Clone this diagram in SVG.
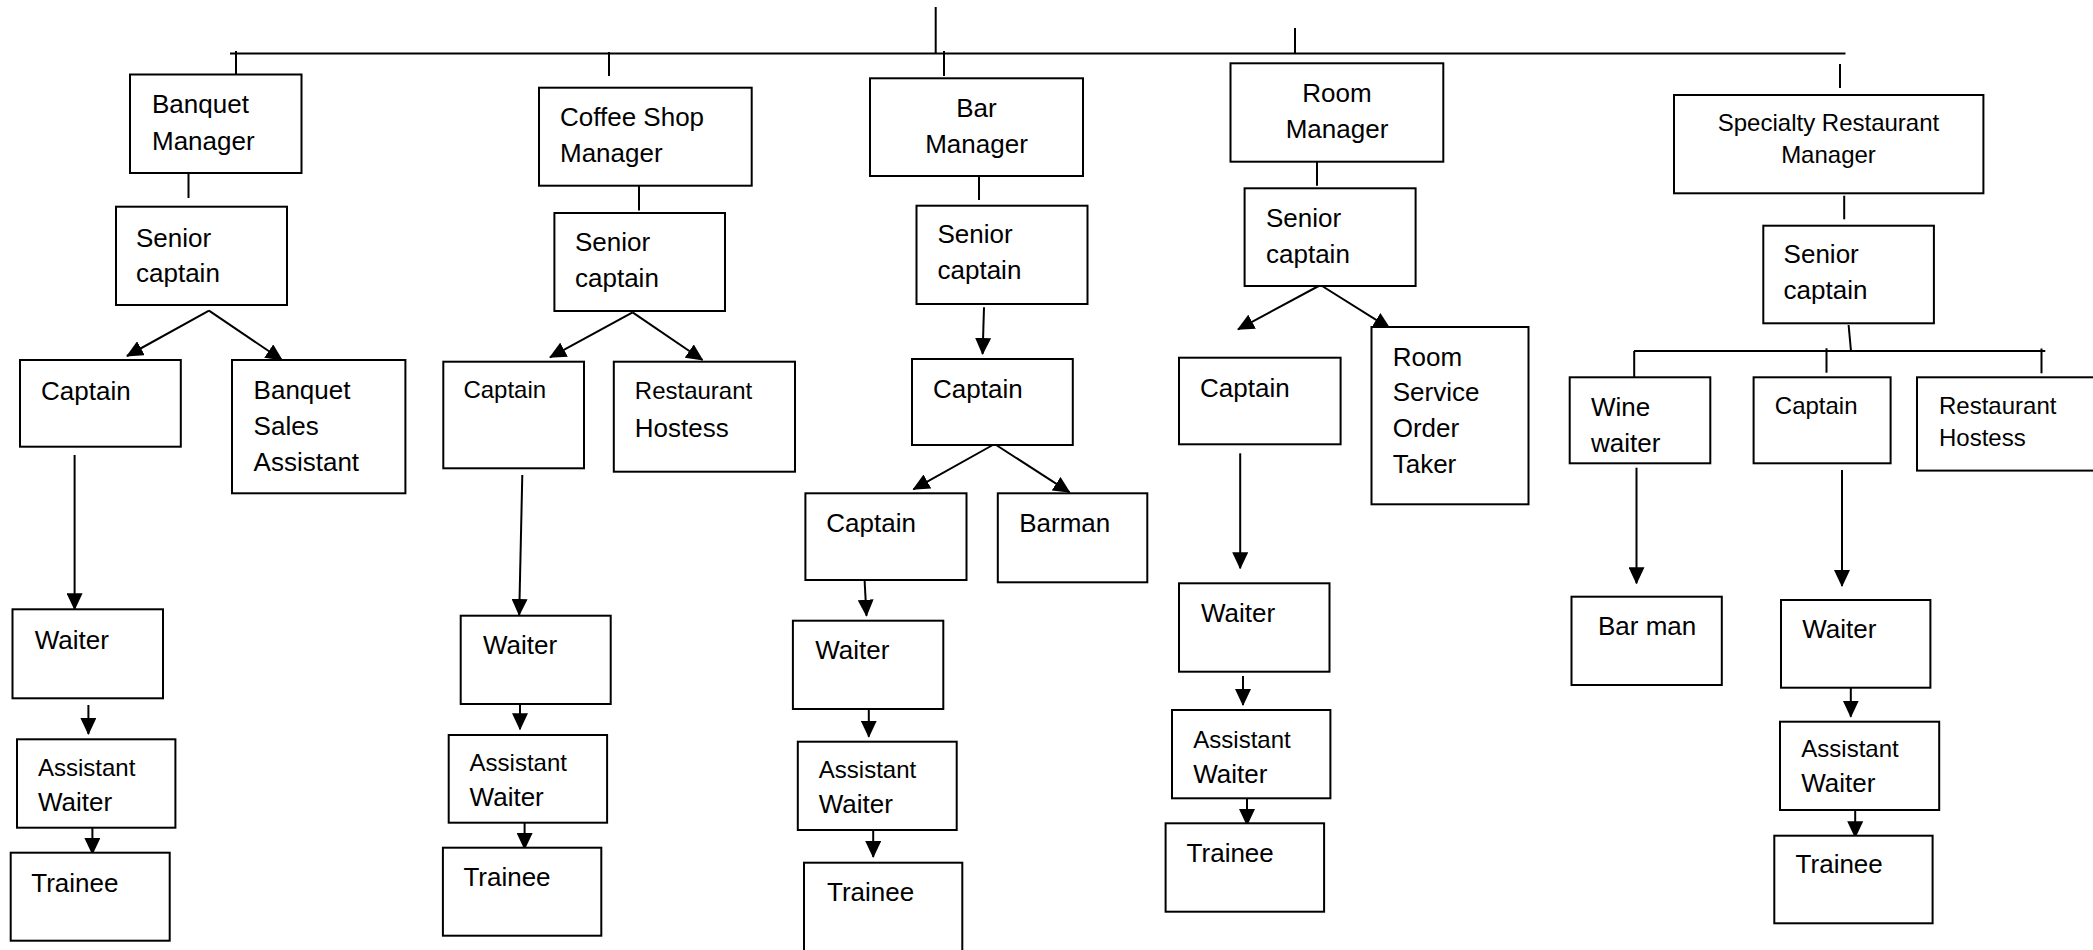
<svg xmlns="http://www.w3.org/2000/svg" width="2093" height="950" viewBox="0 0 2093 950">
<defs>
<style>
.b{fill:#fff;stroke:#000;stroke-width:2}
.c{stroke:#000;stroke-width:2;fill:none}
.a{stroke:#000;stroke-width:2;fill:none;marker-end:url(#ah)}
text{font-family:"Liberation Sans",Arial,sans-serif;font-size:26px;fill:#000}
.s{font-size:24px}
.m{text-anchor:middle}
</style>
<marker id="ah" markerUnits="userSpaceOnUse" markerWidth="17" markerHeight="16" refX="16" refY="8" orient="auto">
<path d="M0,0 L17,8 L0,16 z" fill="#000"/>
</marker>
</defs>
<rect width="2093" height="950" fill="#fff"/>
<g id="connectors">
<line class="c" x1="230" y1="53.5" x2="1845.5" y2="53.5"/>
<line class="c" x1="935.7" y1="7" x2="935.7" y2="53"/>
<line class="c" x1="1295" y1="28" x2="1295" y2="53"/>
<line class="c" x1="236" y1="51" x2="236" y2="74.5"/>
<line class="c" x1="609" y1="52" x2="609" y2="76"/>
<line class="c" x1="944" y1="51" x2="944" y2="76"/>
<line class="c" x1="1840" y1="64" x2="1840" y2="88"/>
<!-- Banquet -->
<line class="c" x1="188.5" y1="173" x2="188.5" y2="198"/>
<line class="a" x1="209" y1="310.7" x2="127" y2="356"/>
<line class="a" x1="209" y1="310.7" x2="282" y2="360"/>
<line class="a" x1="74.6" y1="455" x2="74.6" y2="609.3"/>
<line class="a" x1="88.4" y1="705" x2="88.4" y2="734"/>
<line class="a" x1="92.4" y1="825" x2="92.4" y2="854"/>
<!-- Coffee -->
<line class="c" x1="639" y1="185.7" x2="639" y2="210.5"/>
<line class="a" x1="632.6" y1="312.3" x2="550" y2="357.3"/>
<line class="a" x1="632.6" y1="312.3" x2="702.5" y2="360"/>
<line class="a" x1="522.3" y1="475" x2="519.2" y2="615"/>
<line class="a" x1="520" y1="700" x2="520" y2="729.3"/>
<line class="a" x1="524.6" y1="820.7" x2="524.6" y2="849"/>
<!-- Bar -->
<line class="c" x1="979" y1="176" x2="979" y2="200"/>
<line class="a" x1="984" y1="307.3" x2="982.6" y2="354"/>
<line class="a" x1="994.6" y1="444" x2="913.4" y2="489.3"/>
<line class="a" x1="994.6" y1="444" x2="1069.6" y2="492.3"/>
<line class="a" x1="864.3" y1="575" x2="866.5" y2="615.7"/>
<line class="a" x1="868.8" y1="707.3" x2="868.8" y2="736.7"/>
<line class="a" x1="873.2" y1="828.3" x2="873.2" y2="857"/>
<!-- Room -->
<line class="c" x1="1317" y1="161.7" x2="1317" y2="185.7"/>
<line class="a" x1="1320.5" y1="285" x2="1238" y2="329.3"/>
<line class="a" x1="1320.5" y1="285" x2="1389.7" y2="328.3"/>
<line class="a" x1="1240.2" y1="453.3" x2="1240.2" y2="568.3"/>
<line class="a" x1="1243" y1="676" x2="1243" y2="705"/>
<line class="a" x1="1247" y1="796" x2="1247" y2="825"/>
<!-- Specialty -->
<line class="c" x1="1844.2" y1="195.7" x2="1844.2" y2="219.3"/>
<line class="c" x1="1848.6" y1="325" x2="1851" y2="351"/>
<line class="c" x1="1634" y1="351" x2="2045.3" y2="351"/>
<line class="c" x1="1634.2" y1="351" x2="1634.2" y2="377.3"/>
<line class="c" x1="1826.5" y1="348.3" x2="1826.5" y2="372.7"/>
<line class="c" x1="2041.5" y1="348.5" x2="2041.5" y2="373.3"/>
<line class="a" x1="1636.5" y1="467.7" x2="1636.5" y2="583.3"/>
<line class="a" x1="1842" y1="470" x2="1842" y2="586"/>
<line class="a" x1="1850.8" y1="688" x2="1850.8" y2="716.7"/>
<line class="a" x1="1855.2" y1="808.3" x2="1855.2" y2="837.3"/>
</g>
<!-- Banquet column -->
<g id="banquet-manager"><rect class="b" x="130" y="74.5" width="171.5" height="98.5"/><text x="152" y="113">Banquet</text><text x="152" y="150">Manager</text></g>
<g id="banquet-senior-captain"><rect class="b" x="116" y="206.7" width="171" height="98.3"/><text x="136" y="246.7">Senior</text><text x="136" y="281.7">captain</text></g>
<g id="banquet-captain"><rect class="b" x="20" y="360" width="160.8" height="86.7"/><text x="41" y="400">Captain</text></g>
<g id="banquet-sales-assistant"><rect class="b" x="232" y="360" width="173.4" height="133.3"/><text x="253.6" y="399.3">Banquet</text><text x="253.6" y="435">Sales</text><text x="253.6" y="470.7">Assistant</text></g>
<g id="banquet-waiter"><rect class="b" x="12.5" y="609.3" width="150.5" height="89"/><text x="34.8" y="649.3">Waiter</text></g>
<g id="banquet-assistant-waiter"><rect class="b" x="17" y="739.3" width="158.4" height="88.4"/><text class="s" x="38" y="776">Assistant</text><text x="38" y="810.7">Waiter</text></g>
<g id="banquet-trainee"><rect class="b" x="10.7" y="852.7" width="159" height="88"/><text x="31.3" y="891.7">Trainee</text></g>
<!-- Coffee column -->
<g id="coffee-shop-manager"><rect class="b" x="539" y="87.7" width="212.7" height="98"/><text x="560" y="125.5">Coffee Shop</text><text x="560" y="162">Manager</text></g>
<g id="coffee-senior-captain"><rect class="b" x="554.4" y="213" width="170.6" height="98"/><text x="575" y="251">Senior</text><text x="575" y="287">captain</text></g>
<g id="coffee-captain"><rect class="b" x="443.3" y="361.7" width="140.7" height="106.6"/><text class="s" x="463.4" y="398.3">Captain</text></g>
<g id="coffee-restaurant-hostess"><rect class="b" x="613.8" y="361.7" width="181.2" height="110"/><text class="s" x="634.8" y="399.3">Restaurant</text><text x="634.8" y="436.7">Hostess</text></g>
<g id="coffee-waiter"><rect class="b" x="460.7" y="615.7" width="150" height="88.3"/><text x="483" y="654">Waiter</text></g>
<g id="coffee-assistant-waiter"><rect class="b" x="448.7" y="735" width="158.4" height="87.7"/><text class="s" x="469.6" y="770.7">Assistant</text><text x="469.6" y="806">Waiter</text></g>
<g id="coffee-trainee"><rect class="b" x="442.9" y="847.7" width="158.4" height="88"/><text x="463.4" y="886">Trainee</text></g>
<!-- Bar column -->
<g id="bar-manager"><rect class="b" x="870" y="78.3" width="213" height="97.7"/><text class="m" x="976.5" y="116.7">Bar</text><text class="m" x="976.5" y="153.3">Manager</text></g>
<g id="bar-senior-captain"><rect class="b" x="916.5" y="205.7" width="171" height="98.3"/><text x="937.5" y="243.3">Senior</text><text x="937.5" y="279.3">captain</text></g>
<g id="bar-captain"><rect class="b" x="912" y="359" width="160.8" height="86"/><text x="933" y="397.7">Captain</text></g>
<g id="bar-captain-2"><rect class="b" x="805.4" y="493.3" width="161.1" height="86.7"/><text x="826.3" y="531.7">Captain</text></g>
<g id="bar-barman"><rect class="b" x="997.8" y="493.3" width="149.5" height="89"/><text x="1019.2" y="531.7">Barman</text></g>
<g id="bar-waiter"><rect class="b" x="792.9" y="620.7" width="150.4" height="88.3"/><text x="815.2" y="659.3">Waiter</text></g>
<g id="bar-assistant-waiter"><rect class="b" x="797.8" y="741.7" width="158.9" height="88.3"/><text class="s" x="818.8" y="778.3">Assistant</text><text x="818.8" y="812.7">Waiter</text></g>
<g id="bar-trainee"><rect class="b" x="804" y="862.7" width="158.3" height="100"/><text x="827" y="901">Trainee</text></g>
<!-- Room column -->
<g id="room-manager"><rect class="b" x="1230.5" y="63.3" width="212.8" height="98.4"/><text class="m" x="1337" y="101.7">Room</text><text class="m" x="1337" y="138.3">Manager</text></g>
<g id="room-senior-captain"><rect class="b" x="1244.6" y="188.3" width="171" height="97.7"/><text x="1266" y="226.7">Senior</text><text x="1266" y="263.3">captain</text></g>
<g id="room-captain"><rect class="b" x="1179" y="357.7" width="161.6" height="86.6"/><text x="1200" y="396.7">Captain</text></g>
<g id="room-service-order-taker"><rect class="b" x="1371.5" y="327" width="157" height="177.3"/><text x="1392.7" y="365.7">Room</text><text x="1392.7" y="400.7">Service</text><text x="1392.7" y="437.3">Order</text><text x="1392.7" y="473.3">Taker</text></g>
<g id="room-waiter"><rect class="b" x="1179" y="583.3" width="150.5" height="88.4"/><text x="1201" y="621.7">Waiter</text></g>
<g id="room-assistant-waiter"><rect class="b" x="1172" y="710" width="158.4" height="88.3"/><text class="s" x="1193.3" y="747.7">Assistant</text><text x="1193.3" y="783.3">Waiter</text></g>
<g id="room-trainee"><rect class="b" x="1165.6" y="823.3" width="158.5" height="88.4"/><text x="1186.6" y="861.7">Trainee</text></g>
<!-- Specialty column -->
<g id="specialty-restaurant-manager"><rect class="b" x="1674" y="95" width="309.4" height="98.3"/><text class="s m" x="1828.5" y="130.7">Specialty Restaurant</text><text class="s m" x="1828.5" y="163.3">Manager</text></g>
<g id="specialty-senior-captain"><rect class="b" x="1763.3" y="225.7" width="170.6" height="97.6"/><text x="1783.6" y="263.3">Senior</text><text x="1783.6" y="299">captain</text></g>
<g id="specialty-wine-waiter"><rect class="b" x="1569.7" y="377.3" width="140.6" height="86"/><text x="1591" y="416">Wine</text><text x="1591" y="451.7">waiter</text></g>
<g id="specialty-captain"><rect class="b" x="1753.6" y="377.3" width="137" height="86"/><text class="s" x="1774.8" y="414.3">Captain</text></g>
<g id="specialty-restaurant-hostess"><rect class="b" x="1917" y="377.3" width="190" height="93.3"/><text class="s" x="1939" y="414">Restaurant</text><text class="s" x="1939" y="446">Hostess</text></g>
<g id="specialty-bar-man"><rect class="b" x="1571.5" y="596.7" width="150.3" height="88.3"/><text x="1598" y="635">Bar man</text></g>
<g id="specialty-waiter"><rect class="b" x="1781" y="600" width="149.4" height="87.7"/><text x="1802.2" y="638.3">Waiter</text></g>
<g id="specialty-assistant-waiter"><rect class="b" x="1780" y="721.7" width="159.2" height="88.3"/><text class="s" x="1801.3" y="757.3">Assistant</text><text x="1801.3" y="791.7">Waiter</text></g>
<g id="specialty-trainee"><rect class="b" x="1774.3" y="835.7" width="158.3" height="87.6"/><text x="1795.6" y="873.3">Trainee</text></g>
</svg>
